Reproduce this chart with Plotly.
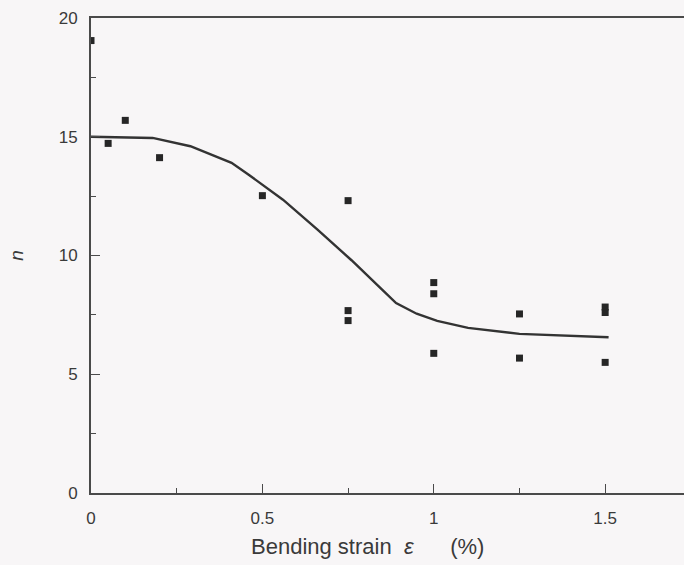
import plotly.graph_objects as go

# Measured exponent n versus bending strain
strain_pts = [0.0, 0.05, 0.10, 0.20, 0.50, 0.75, 0.75, 0.75, 1.00, 1.00, 1.00, 1.25, 1.25, 1.50, 1.50, 1.50]
n_pts = [19.05, 14.72, 15.69, 14.12, 12.52, 12.31, 7.68, 7.26, 8.86, 8.39, 5.88, 7.54, 5.68, 7.83, 7.6, 5.50]

# Trend curve
strain_fit = [0.0, 0.18, 0.29, 0.41, 0.46, 0.56, 0.66, 0.76, 0.85, 0.89, 0.95, 1.01, 1.10, 1.19, 1.25, 1.51]
n_fit = [15.0, 14.95, 14.6, 13.9, 13.4, 12.35, 11.1, 9.8, 8.55, 8.0, 7.55, 7.25, 6.95, 6.8, 6.7, 6.56]

x_ticks = [0, 0.5, 1, 1.5]
x_ticklabels = ["0", "0.5", "1", "1.5"]
y_ticks = [0, 5, 10, 15, 20]
y_ticklabels = ["0", "5", "10", "15", "20"]

ink = "#333333"
axis_col = "#4a4a4a"
bg = "#f8f6f7"
font = "Liberation Sans, Arial, sans-serif"

fig = go.Figure()
fig.add_trace(go.Scatter(
    x=strain_fit, y=n_fit, mode="lines",
    line=dict(color=ink, width=2.4), hoverinfo="skip", showlegend=False,
))
fig.add_trace(go.Scatter(
    x=strain_pts, y=n_pts, mode="markers",
    marker=dict(symbol="square", size=7, color="#262626"),
    showlegend=False,
))

fig.update_layout(
    width=684, height=565,
    margin=dict(l=91, r=0, t=18, b=72),
    paper_bgcolor=bg, plot_bgcolor=bg,
    font=dict(family=font, size=17, color="#3a3a3a"),
)
fig.update_xaxes(
    range=[0, 1.730], showgrid=False, zeroline=False,
    showline=True, linecolor=axis_col, linewidth=2, mirror=True,
    tickmode="array", tickvals=x_ticks, ticktext=x_ticklabels,
    ticks="inside", ticklen=9, tickwidth=1.3, tickcolor=axis_col,
    minor=dict(dtick=0.25, ticks="inside", ticklen=5, tickwidth=1.3, tickcolor=axis_col),
    ticklabelstandoff=9,
)
fig.update_yaxes(
    range=[0, 20], showgrid=False, zeroline=False,
    showline=True, linecolor=axis_col, linewidth=2, mirror=False,
    tickmode="array", tickvals=y_ticks, ticktext=y_ticklabels,
    ticks="inside", ticklen=9, tickwidth=1.3, tickcolor=axis_col,
    minor=dict(dtick=2.5, ticks="inside", ticklen=5, tickwidth=1.3, tickcolor=axis_col),
    ticklabelstandoff=8,
    title=dict(text="<i>n</i>", font=dict(size=19), standoff=30),
)

fig.add_annotation(
    text="Bending strain\u00a0\u00a0<i>ε</i>\u00a0\u00a0\u00a0\u00a0\u00a0\u00a0(%)",
    xref="paper", yref="paper", x=(249 - 91) / 593, y=-0.112,
    xanchor="left", yanchor="middle", showarrow=False,
    font=dict(size=22, color="#3a3a3a", family=font),
)

fig.write_html("out.html")
